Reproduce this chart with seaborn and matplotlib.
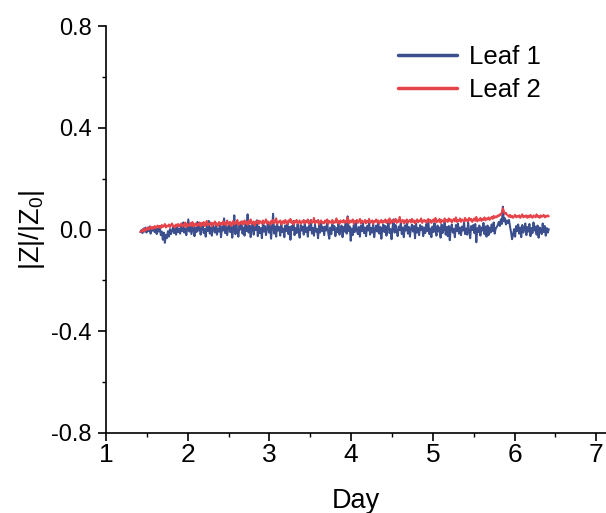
import numpy as np
import pandas as pd
import matplotlib
matplotlib.use("Agg")
import matplotlib.pyplot as plt
import seaborn as sns
from matplotlib.ticker import MultipleLocator

# ---- data, values in thousandths of |Z|/|Z0| ----
day_start = 1.42
day_end = 6.42
unit = 0.001

leaf1_milli = [
    -10, -2, -14, 4, -8, 8, -12, 2, -6, 12, -16, 0, -4, 10, -10, 6, -18, 4, -8, 14,
    -22, -8, -40, -12, -52, -20, -34, -6, -28, 2, -18, -4, 10, -14, 6, -20, 14, -10, 2, -16,
    18, -6, 28, -12, 4, -22, 10, 40, -8, 16, -18, 2, 22, -26, 8, -10, 30, -4, 12, -20,
    6, 24, -14, 2, -28, 14, -6, 34, -16, 8, -24, 18, 0, -12, 26, -20, 4, -8, 20, -30,
    10, -4, 44, -14, 18, -22, 2, 28, -10, 12, -32, 6, 56, -18, 22, -8, -28, 14, 0, 32,
    -16, 8, -24, 20, -6, 60, -12, 16, -30, 4, 24, -20, 10, -2, 36, -26, 12, -14, 6, -34,
    22, -8, 14, -22, 4, 30, -12, 18, -36, 8, 62, -16, 12, -28, 20, -4, 10, -24, 26, -10,
    4, -30, 16, -6, 28, -18, 10, -40, 14, -2, 34, -22, 6, -14, 22, -8, -32, 18, -4, 12,
    -20, 26, -10, 8, -28, 14, -2, 38, -16, 6, -24, 20, -8, 2, -34, 16, -12, 28, -6, 10,
    -22, 12, -4, 30, -14, -36, 8, -18, 20, -2, 14, -26, 6, -10, 24, -20, 2, 16, -30, 10,
    -8, 22, -16, 52, -6, 12, -44, 4, -22, 18, -10, 28, -2, -18, 10, -28, 16, -6, 24, -14,
    8, -26, 14, -4, 32, -20, 6, -12, 22, -30, 2, 16, -8, 26, -16, 10, -36, 4, 20, -10,
    14, -24, 6, 28, -14, 2, -38, 10, 40, -12, 18, -6, -26, 12, -2, 24, -18, 8, -30, 16,
    -4, 30, -16, 10, -28, 4, 20, -8, 14, -34, 24, -12, 6, -22, 18, -2, 12, -26, 8, -14,
    22, -6, 34, -18, 4, -30, 12, -10, 26, -4, -24, 16, -8, 8, -32, 20, -14, 2, 28, -20,
    10, -26, 14, -42, 6, 20, -12, 2, -30, 18, -6, 24, -16, 8, -22, 12, -4, 30, -18, 4,
    -20, 28, -8, -34, 14, -2, 18, -14, 22, -50, 6, -10, 16, -24, 8, -4, 26, -18, 12, -28,
    16, -22, 8, -12, 20, -6, 28, -16, 4, 10, 18, 30, 14, 40, 22, 90, 32, 44, 20, 36,
    26, 38, 12, -10, -38, -20, 2, -28, 14, -6, 20, -16, 8, -30, 18, -12, 4, 24, -22, 10,
    -8, 22, -26, 6, -14, 28, -4, 12, -20, 16, -32, 8, 2, -18, 24, -10, 14, -24, 6, -12,
    2,
]

leaf2_milli = [
    -10, -4, -8, 2, -6, 4, -2, 8, 0, 6, 12, 2, 10, 4, 14, 6, 12, 16, 8, 14,
    6, 18, 10, 14, 22, 8, 16, 12, 20, 10, 18, 24, 12, 16, 8, 20, 14, 22, 12, 18,
    24, 12, 20, 16, 28, 10, 22, 18, 14, 26, 16, 30, 12, 20, 24, 14, 22, 18, 28, 12,
    26, 18, 30, 14, 22, 34, 16, 24, 20, 28, 12, 26, 22, 32, 18, 24, 14, 30, 20, 26,
    18, 32, 22, 28, 16, 36, 24, 20, 30, 14, 26, 34, 20, 28, 24, 38, 18, 26, 30, 22,
    32, 20, 36, 26, 30, 18, 34, 24, 40, 22, 28, 32, 16, 30, 26, 36, 22, 34, 28, 24,
    36, 22, 30, 40, 24, 32, 28, 18, 34, 26, 38, 24, 30, 44, 22, 32, 28, 36, 20, 30,
    34, 24, 38, 28, 22, 36, 30, 42, 26, 32, 20, 34, 28, 38, 24, 30, 36, 22, 32, 28,
    38, 24, 34, 28, 40, 22, 32, 36, 26, 30, 46, 24, 34, 28, 38, 20, 32, 36, 26, 30,
    24, 36, 28, 40, 22, 34, 30, 26, 38, 24, 32, 28, 44, 26, 34, 22, 36, 30, 28, 38,
    26, 34, 30, 48, 24, 36, 28, 32, 40, 22, 34, 30, 38, 26, 32, 42, 24, 36, 30, 28,
    38, 24, 34, 30, 42, 26, 32, 36, 22, 34, 30, 40, 28, 36, 24, 32, 38, 26, 34, 30,
    40, 26, 36, 30, 44, 24, 34, 38, 28, 32, 42, 26, 36, 30, 50, 28, 34, 38, 24, 36,
    30, 40, 26, 34, 38, 28, 42, 30, 36, 24, 34, 40, 28, 36, 32, 44, 26, 34, 38, 30,
    36, 28, 42, 32, 38, 26, 34, 40, 30, 46, 28, 36, 32, 42, 26, 38, 34, 30, 44, 32,
    38, 30, 44, 34, 40, 28, 36, 42, 32, 48, 30, 38, 34, 44, 30, 40, 36, 32, 46, 34,
    40, 32, 46, 36, 42, 30, 38, 44, 34, 50, 32, 40, 36, 46, 34, 42, 38, 48, 36, 44,
    40, 48, 38, 44, 50, 42, 54, 46, 52, 48, 56, 52, 60, 58, 68, 84, 72, 62, 66, 58,
    56, 50, 58, 48, 54, 46, 52, 58, 48, 54, 50, 56, 46, 52, 60, 48, 54, 50, 56, 46,
    54, 48, 58, 50, 46, 56, 52, 48, 60, 50, 54, 46, 56, 50, 52, 58, 48, 54, 50, 56,
    52,
]

series_names = ["Leaf 1", "Leaf 2"]
colors = ["#3b4f8e", "#e5454a"]
x_ticks = [1, 2, 3, 4, 5, 6, 7]
y_ticks = [-0.8, -0.4, 0.0, 0.4, 0.8]
y_tick_labels = ["-0.8", "-0.4", "0.0", "0.4", "0.8"]

# ---- tidy frame ----
frames = []
for name, vals in zip(series_names, [leaf1_milli, leaf2_milli]):
    d = np.linspace(day_start, day_end, len(vals))
    frames.append(pd.DataFrame({"Day": d, "val": np.asarray(vals) * unit,
                                "series": name}))
df = pd.concat(frames, ignore_index=True)

sns.set_theme(style="ticks")
plt.rcParams["font.family"] = ["Liberation Sans", "DejaVu Sans"]
plt.rcParams["mathtext.fontset"] = "custom"
plt.rcParams["mathtext.rm"] = "Liberation Sans"
plt.rcParams["mathtext.it"] = "Liberation Sans"
for k in ["text.color", "axes.labelcolor", "xtick.color", "ytick.color",
          "axes.edgecolor"]:
    plt.rcParams[k] = "black"

fig = plt.figure(figsize=(6.06, 5.13), dpi=100)
ax = fig.add_axes([0.175, 0.156, 0.825, 0.793])

sns.lineplot(data=df, x="Day", y="val", hue="series", palette=colors,
             estimator=None, sort=False, linewidth=1.45, ax=ax)

ax.set_xlim(1, 7.12)
ax.set_ylim(-0.8, 0.8)
ax.set_xticks(x_ticks)
ax.set_xticklabels([str(t) for t in x_ticks])
ax.xaxis.set_minor_locator(MultipleLocator(0.5))
ax.set_yticks(y_ticks)
ax.set_yticklabels(y_tick_labels)
ax.yaxis.set_minor_locator(MultipleLocator(0.2))

for s in ["top", "right"]:
    ax.spines[s].set_visible(False)
for s in ["left", "bottom"]:
    ax.spines[s].set_linewidth(1.2)
    ax.spines[s].set_color("black")

ax.tick_params(axis="both", which="major", direction="out", length=6, width=1.2,
               colors="black")
ax.tick_params(axis="x", which="major", labelsize=19, pad=1.5)
ax.tick_params(axis="y", which="major", labelsize=17, pad=4.5)
ax.tick_params(axis="both", which="minor", direction="out", length=3, width=1.0,
               colors="black")

ax.set_xlabel("Day", fontsize=19.5, labelpad=15)
ax.set_ylabel("|Z|/|Z$_0$|", fontsize=19.5, labelpad=3)

leg = ax.legend(loc="upper left", bbox_to_anchor=(0.564, 0.98), frameon=False,
                fontsize=18.5, handlelength=2.3, handletextpad=0.45,
                labelspacing=0.35, borderaxespad=0.0)
for line in leg.get_lines():
    line.set_linewidth(2.5)

fig.savefig("out.png", dpi=100)
